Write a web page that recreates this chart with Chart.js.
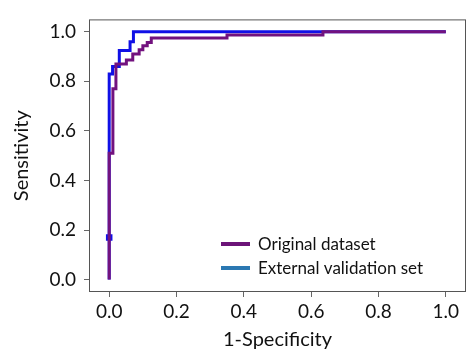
<!DOCTYPE html>
<html>
<head>
<meta charset="utf-8">
<script src="https://cdn.jsdelivr.net/npm/chart.js@4/dist/chart.umd.min.js"></script>
<style>
  html, body { margin: 0; padding: 0; background: #fff; }
  #wrap { width: 467px; height: 354px; }
</style>
</head>
<body>
<div id="wrap"><canvas id="roc"></canvas></div>
<script>
// ROC points (false positive rate / true positive rate)
const origFpr = [0, 0, 0.011, 0.011, 0.02, 0.02, 0.051, 0.051, 0.07, 0.07, 0.089, 0.089, 0.1, 0.1, 0.113, 0.113, 0.125, 0.125, 0.35, 0.35, 0.635, 0.635, 1];
const origTpr = [0, 0.51, 0.51, 0.77, 0.77, 0.87, 0.87, 0.886, 0.886, 0.91, 0.91, 0.928, 0.928, 0.944, 0.944, 0.957, 0.957, 0.975, 0.975, 0.987, 0.987, 1, 1];
const extFpr = [0, 0, 0, 0.01, 0.01, 0.03, 0.03, 0.062, 0.062, 0.072, 0.072, 1];
const extTpr = [0, 0.17, 0.83, 0.83, 0.86, 0.86, 0.925, 0.925, 0.96, 0.96, 1, 1];
const xTicks = [0, 0.2, 0.4, 0.6, 0.8, 1.0];
const yTicks = [0, 0.2, 0.4, 0.6, 0.8, 1.0];
const seriesNames = ['Original dataset', 'External validation set'];

const lineColors = ['#72127e', '#1010e6'];
const legendColors = ['#6c1478', '#2b78b2'];
const FONT = 'Lato, "Open Sans", sans-serif';

const toPts = (xs, ys) => xs.map((x, i) => ({x: x, y: ys[i]}));

// box around the plot area, like matplotlib's spines
const frame = {
  id: 'frame',
  afterDatasetsDraw(chart) {
    const a = chart.chartArea, c = chart.ctx;
    c.save();
    c.strokeStyle = '#555';
    c.lineWidth = 1;
    c.strokeRect(a.left + 0.5, a.top + 0.5, a.right - a.left - 1, a.bottom - a.top - 1);
    c.restore();
  }
};

// legend sitting in the lower right corner of the axes
const innerLegend = {
  id: 'innerLegend',
  afterDraw(chart) {
    const c = chart.ctx;
    c.save();
    c.font = '17px ' + FONT;
    c.textBaseline = 'middle';
    seriesNames.forEach((name, i) => {
      const y = 244 + i * 24;
      c.strokeStyle = legendColors[i];
      c.lineWidth = 4;
      c.beginPath();
      c.moveTo(221, y);
      c.lineTo(250, y);
      c.stroke();
      c.fillStyle = '#111';
      c.fillText(name, 258, y + 1);
    });
    c.restore();
  }
};

new Chart(document.getElementById('roc'), {
  type: 'scatter',
  data: {
    datasets: [{
      label: seriesNames[1],
      data: toPts(extFpr, extTpr),
      showLine: true,
      borderColor: lineColors[1],
      backgroundColor: lineColors[1],
      borderWidth: 3,
      pointRadius: extFpr.map((_, i) => i === 1 ? 2.5 : 0),
      pointStyle: 'rect',
      order: 2
    }, {
      label: seriesNames[0],
      data: toPts(origFpr, origTpr),
      showLine: true,
      borderColor: lineColors[0],
      backgroundColor: lineColors[0],
      borderWidth: 3,
      pointRadius: 0,
      order: 1
    }]
  },
  options: {
    responsive: true,
    maintainAspectRatio: false,
    animation: false,
    layout: { padding: { top: 11, right: 1, left: 0, bottom: 0 } },
    plugins: { legend: { display: false }, tooltip: { enabled: false } },
    scales: {
      x: {
        type: 'linear',
        min: -0.06, max: 1.06,
        afterBuildTicks: s => { s.ticks = xTicks.map(v => ({value: v})); },
        afterFit: s => { s.height = 62; },
        ticks: { color: '#111', font: { family: FONT, size: 19 }, padding: 3, callback: v => v.toFixed(1) },
        grid: { drawOnChartArea: false, tickLength: 5, color: '#666' },
        border: { display: false },
        title: { display: true, text: '1-Specificity', color: '#111', font: { family: FONT, size: 20 }, padding: { top: 0, bottom: 2 } }
      },
      y: {
        type: 'linear',
        min: -0.05, max: 1.05,
        afterBuildTicks: s => { s.ticks = yTicks.map(v => ({value: v})); },
        afterFit: s => { s.width = 89; },
        ticks: { color: '#111', font: { family: FONT, size: 19 }, padding: 8, callback: v => v.toFixed(1) },
        grid: { drawOnChartArea: false, tickLength: 5, color: '#666' },
        border: { display: false },
        title: { display: true, text: 'Sensitivity', color: '#111', font: { family: FONT, size: 20 }, padding: { top: 10, bottom: 0 } }
      }
    }
  },
  plugins: [frame, innerLegend]
});
</script>
</body>
</html>
